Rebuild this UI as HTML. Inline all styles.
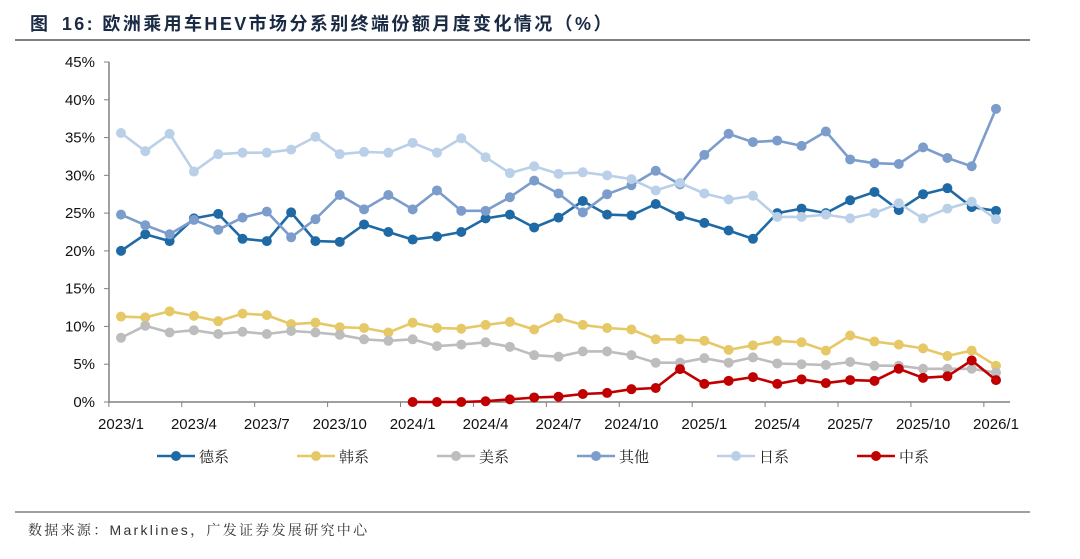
<!DOCTYPE html>
<html><head><meta charset="utf-8">
<style>
body{margin:0;width:1080px;height:554px;background:#fff;overflow:hidden;font-family:"Liberation Sans","Noto Sans CJK SC",sans-serif;}
</style></head>
<body>
<svg id="chart" width="1080" height="554" xmlns="http://www.w3.org/2000/svg">
<text x="30" y="30" font-size="18" font-weight="bold" fill="#1a2a44" letter-spacing="2.4" font-family="Liberation Sans,Noto Sans CJK SC,sans-serif">图 <tspan dx="4">16:</tspan> 欧洲乘用车HEV市场分系别终端份额月度变化情况（%）</text>
<line x1="15" y1="40" x2="1030" y2="40" stroke="#808080" stroke-width="2"/>
<g id="axes"></g>
<g id="series"></g>
<g id="legend"></g>
<line x1="15" y1="512" x2="1030" y2="512" stroke="#808080" stroke-width="1.5"/>
<text x="28" y="535" font-size="14" fill="#333" letter-spacing="2.3" font-family="Liberation Sans,Noto Serif CJK SC,serif">数据来源：Marklines，广发证券发展研究中心</text>
</svg>
<script>
const months = [];
for (let y = 2023; y <= 2026; y++) for (let m = 1; m <= 12; m++) if (months.length < 37) months.push(y + '/' + m);
const yTicks = [0,5,10,15,20,25,30,35,40,45];
const deSeries = [20.0,22.2,21.3,24.3,24.9,21.6,21.3,25.1,21.3,21.2,23.5,22.5,21.5,21.9,22.5,24.3,24.8,23.1,24.4,26.6,24.8,24.7,26.2,24.6,23.7,22.7,21.6,25.0,25.6,25.0,26.7,27.8,25.4,27.5,28.3,25.8,25.3];
const krSeries = [11.3,11.2,12.0,11.4,10.7,11.7,11.5,10.3,10.5,9.9,9.8,9.2,10.5,9.8,9.7,10.2,10.6,9.6,11.1,10.2,9.8,9.6,8.3,8.3,8.1,6.9,7.5,8.1,7.9,6.8,8.8,8.0,7.6,7.1,6.1,6.8,4.8];
const usSeries = [8.5,10.1,9.2,9.5,9.0,9.3,9.0,9.4,9.2,8.9,8.3,8.1,8.3,7.4,7.6,7.9,7.3,6.2,6.0,6.7,6.7,6.2,5.2,5.2,5.8,5.2,5.9,5.1,5.0,4.9,5.3,4.8,4.8,4.4,4.4,4.4,3.9];
const otherSeries = [24.8,23.4,22.2,24.1,22.8,24.4,25.2,21.8,24.2,27.4,25.5,27.4,25.5,28.0,25.3,25.3,27.1,29.3,27.6,25.1,27.5,28.7,30.6,28.8,32.7,35.5,34.4,34.6,33.9,35.8,32.1,31.6,31.5,33.7,32.3,31.2,38.8];
const jpSeries = [35.6,33.2,35.5,30.5,32.8,33.0,33.0,33.4,35.1,32.8,33.1,33.0,34.3,33.0,34.9,32.4,30.3,31.2,30.2,30.4,30.0,29.5,28.0,29.0,27.6,26.8,27.3,24.5,24.5,24.8,24.3,25.0,26.3,24.3,25.6,26.5,24.2];
const cnSeries = [null,null,null,null,null,null,null,null,null,null,null,null,0,0,0,0.1,0.35,0.6,0.7,1.06,1.2,1.7,1.85,4.35,2.4,2.8,3.3,2.4,3.0,2.5,2.9,2.8,4.4,3.2,3.4,5.5,2.9];
const seriesNames = ['德系','韩系','美系','其他','日系','中系'];

const NS = 'http://www.w3.org/2000/svg';
const X0 = 121, DX = (996 - 121) / 36, Y0 = 402, YTOP = 62;
const xs = i => X0 + i * DX;
const ys = v => Y0 - (v / 45) * (Y0 - YTOP);
function mk(tag, attrs, parent) { const e = document.createElementNS(NS, tag); for (const k in attrs) e.setAttribute(k, attrs[k]); parent.appendChild(e); return e; }

const axes = document.getElementById('axes');
let yAxis = mk('line', {x1:109, y1:YTOP, x2:109, y2:Y0, stroke:'#808080', 'stroke-width':1.5}, axes);


let xAxis = mk('line', {x1:109, y1:Y0, x2:1010, y2:Y0, stroke:'#808080', 'stroke-width':1.5}, axes);


yTicks.forEach(t => {
  mk('line', {x1:104, y1:ys(t), x2:109, y2:ys(t), stroke:'#808080', 'stroke-width':1}, axes);
  const tx = mk('text', {x:95, y:ys(t) + 5, 'text-anchor':'end', 'font-size':15, fill:'#111'}, axes);
  tx.textContent = t + '%';
  
  
});
months.forEach((m, i) => {
  if (i % 3 === 0) {
    mk('line', {x1:xs(i) - DX/2, y1:Y0, x2:xs(i) - DX/2, y2:Y0 + 5, stroke:'#808080', 'stroke-width':1}, axes);
    const tx = mk('text', {x:xs(i), y:429, 'text-anchor':'middle', 'font-size':15, fill:'#111'}, axes);
    tx.textContent = m;
    
    
  }
});

const allSeries = [deSeries, krSeries, usSeries, otherSeries, jpSeries, cnSeries];
const colors = ['#1f6aa5', '#e6c866', '#bdbdbd', '#7c9dcc', '#bad0e8', '#c00000'];
const keys = ['de', 'kr', 'us', 'other', 'jp', 'cn'];
const sg = document.getElementById('series');
const order = [0, 1, 2, 3, 4, 5];
order.forEach(k => {
  const data = allSeries[k];
  const g = mk('g', {}, sg);
  
  
  let d = '';
  data.forEach((v, i) => { if (v === null) return; d += (d ? 'L' : 'M') + xs(i).toFixed(1) + ' ' + ys(v).toFixed(1); });
  const p = mk('path', {d:d, fill:'none', stroke:colors[k], 'stroke-width':2.6, 'stroke-linejoin':'round'}, g);
  
  
  data.forEach((v, i) => {
    if (v === null) return;
    const c = mk('circle', {cx:xs(i), cy:ys(v), r:5, fill:colors[k]}, g);
    
    
  });
});

const lg = document.getElementById('legend');
seriesNames.forEach((n, k) => {
  const lx = 157 + k * 140;
  const g = mk('g', {}, lg);
  
  
  mk('line', {x1:lx, y1:456, x2:lx + 38, y2:456, stroke:colors[k], 'stroke-width':2.6}, g);
  mk('circle', {cx:lx + 19, cy:456, r:5, fill:colors[k]}, g);
  const t = mk('text', {x:lx + 42, y:462, 'font-size':15, fill:'#222', 'font-family':'Noto Serif CJK SC, serif'}, g);
  t.textContent = n;
});
</script>
</body></html>
